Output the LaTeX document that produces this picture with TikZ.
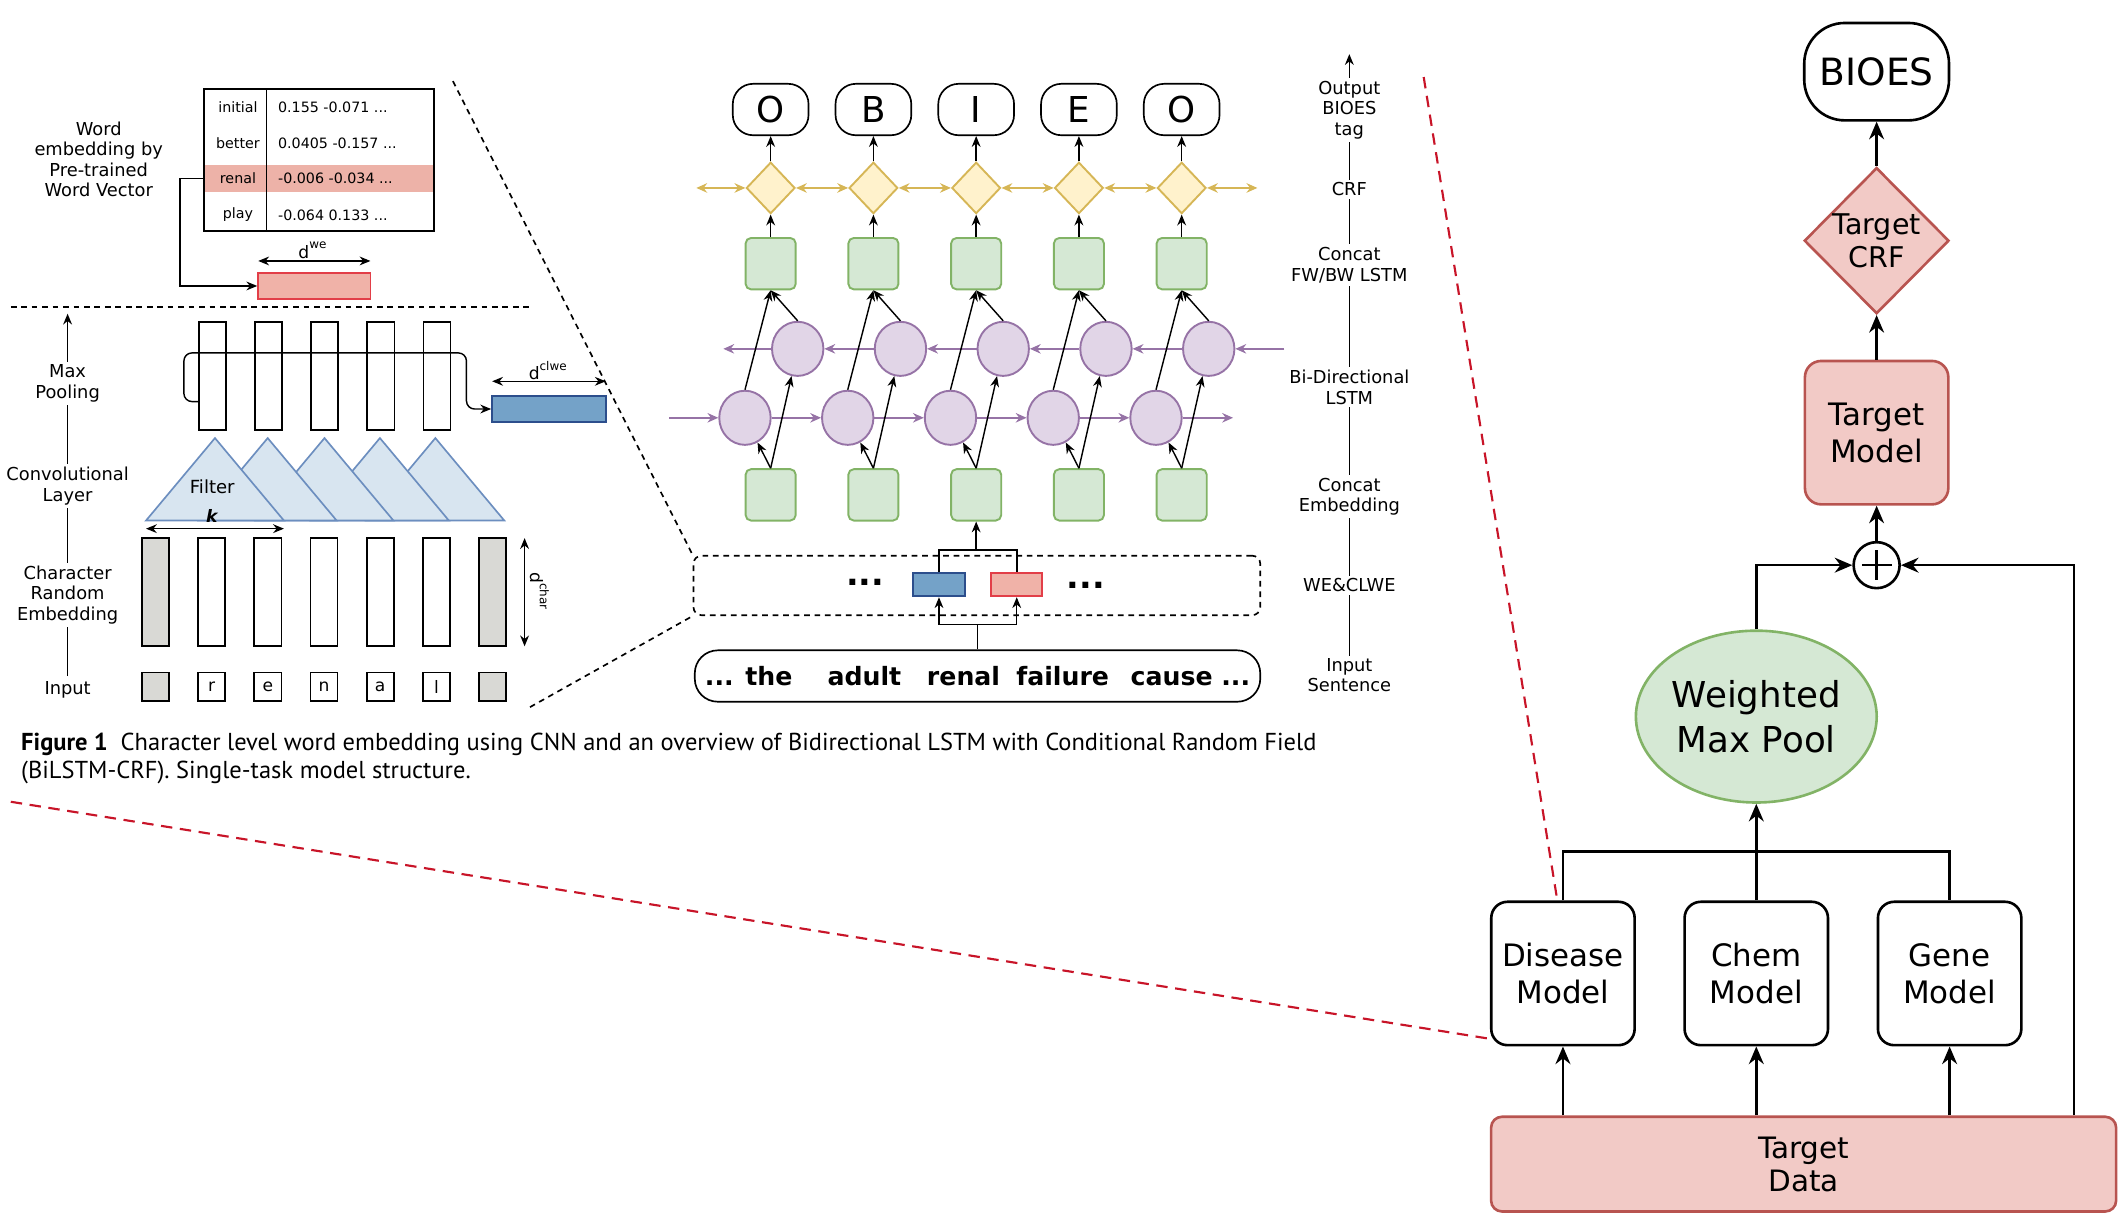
\documentclass[tikz,border=0pt]{standalone}
\usepackage{fontspec}
\setmainfont{DejaVu Sans}
\newfontfamily\capfont{PT Sans}
\usepackage{xcolor}
\usepackage{tikz}
\usetikzlibrary{positioning, arrows.meta, shapes}
\definecolor{rowcolor}{RGB}{237,178,168}
\definecolor{wefill}{RGB}{240,178,168}
\definecolor{weline}{RGB}{226,62,72}
\definecolor{clwefill}{RGB}{116,162,200}
\definecolor{clweline}{RGB}{44,78,140}
\definecolor{padfill}{RGB}{217,217,213}
\definecolor{filtfill}{RGB}{216,229,240}
\definecolor{filtline}{RGB}{108,142,191}
\definecolor{crffill}{RGB}{255,242,204}
\definecolor{crfline}{RGB}{214,182,86}
\definecolor{catfill}{RGB}{213,232,212}
\definecolor{catline}{RGB}{130,179,102}
\definecolor{lstmfill}{RGB}{225,213,231}
\definecolor{lstmline}{RGB}{150,115,166}
\definecolor{targetfill}{RGB}{242,202,198}
\definecolor{targetline}{RGB}{184,84,80}
\definecolor{zoomred}{RGB}{200,20,40}

\begin{document}
\begin{tikzpicture}[x=0.01cm, y=-0.01cm,
    every node/.style={align=center},
    lbl/.style={fill=white, inner sep=0.6pt, font=\fontsize{3.75pt}{4.3pt}\selectfont},
    tabtext/.style={inner sep=0pt, font=\fontsize{3pt}{3.6pt}\selectfont},
    dimtext/.style={inner sep=0pt, font=\fontsize{3.6pt}{3.6pt}\selectfont},
    vec/.style={draw, line width=0.35pt, minimum width=0.2cm, minimum height=0.8cm, inner sep=0pt},
    chr/.style={draw, line width=0.35pt, minimum width=0.2cm, minimum height=0.21cm, inner sep=0pt, font=\fontsize{3.6pt}{3.6pt}\selectfont},
    wevec/.style={draw=weline, fill=wefill, line width=0.4pt, inner sep=0pt},
    clwevec/.style={draw=clweline, fill=clwefill, line width=0.4pt, inner sep=0pt},
    filt/.style={draw=filtline, fill=filtfill, line width=0.35pt},
    tagbox/.style={draw, line width=0.35pt, rounded corners=0.15cm, minimum width=0.56cm, minimum height=0.38cm, inner sep=0pt, font=\fontsize{7.5pt}{7.5pt}\selectfont},
    crfnode/.style={diamond, draw=crfline, fill=crffill, line width=0.4pt, minimum width=0.36cm, minimum height=0.38cm, inner sep=0pt},
    catbox/.style={draw=catline, fill=catfill, line width=0.4pt, rounded corners=0.04cm, minimum width=0.37cm, minimum height=0.38cm, inner sep=0pt},
    lstm/.style={ellipse, draw=lstmline, fill=lstmfill, line width=0.4pt, minimum width=0.38cm, minimum height=0.4cm, inner sep=0pt},
    tarr/.style={-{Stealth[length=0.8mm, width=0.65mm]}, line width=0.3pt},
    dimarr/.style={{Stealth[length=0.8mm, width=0.65mm]}-{Stealth[length=0.8mm, width=0.65mm]}, line width=0.3pt},
    parr/.style={-{Stealth[length=0.8mm, width=0.7mm]}, draw=lstmline, line width=0.45pt},
    garr/.style={{Stealth[length=0.8mm, width=0.7mm]}-{Stealth[length=0.8mm, width=0.7mm]}, draw=crfline, line width=0.45pt},
    zoomdash/.style={line width=0.35pt, dash pattern=on 1.2pt off 1pt},
    reddash/.style={draw=zoomred, line width=0.45pt, dash pattern=on 2.4pt off 1.6pt},
    mbox/.style={draw, fill=white, line width=0.55pt, rounded corners=0.12cm, minimum width=1.06cm, minimum height=1.06cm, inner sep=0pt, font=\fontsize{6.5pt}{7.7pt}\selectfont},
    tbox/.style={mbox, draw=targetline, fill=targetfill},
    rarr/.style={-{Stealth[length=1.3mm, width=1.1mm]}, line width=0.55pt},
    rline/.style={line width=0.55pt}
]
\useasboundingbox (0,0) rectangle (1568,899);

% ---- Word embedding table ----
\fill[rowcolor] (151,122) rectangle (321,142);
\node[draw, line width=0.35pt, minimum width=1.7cm, minimum height=1.05cm, inner sep=0pt] (table) at (236,118.5) {};
\draw[line width=0.35pt] (197,66) -- (197,171);
\node[tabtext] (w1) at (176,79) {initial};
\node[tabtext, anchor=west] (v1) at (205,79) {0.155 -0.071 ...};
\node[tabtext] (w2) at (176,106) {better};
\node[tabtext, anchor=west] (v2) at (205,106) {0.0405 -0.157 ...};
\node[tabtext] (w3) at (176,132) {renal};
\node[tabtext, anchor=west] (v3) at (205,132) {-0.006 -0.034 ...};
\node[tabtext] (w4) at (176,159) {play};
\node[tabtext, anchor=west] (v4) at (205,159) {-0.064 0.133 ...};
\node[lbl, fill=none] (wvlbl) at (73,118) {Word\\embedding by\\Pre-trained\\Word Vector};
\node[wevec, minimum width=0.83cm, minimum height=0.19cm] (webox) at (232.5,211.5) {};
\draw[tarr] (w3 -| table.west) -- (133,132) |- (webox.west);
\coordinate (we1) at (191,193);
\coordinate (we2) at (274,193);
\draw[dimarr] (we1) -- (we2);
\node[dimtext] (welbl) at (232,185) {d\textsuperscript{we}};
\draw[zoomdash] (8,227) -- (392,227);

% ---- Character CNN ----
\coordinate (laxbot) at (50,500);
\coordinate (laxtop) at (50,232);
\draw[tarr] (laxbot) -- (laxtop);
\node[lbl] (lmp) at (50,283.5) {Max\\Pooling};
\node[lbl] (lconv) at (50,359.5) {Convolutional\\Layer};
\node[lbl] (lchar) at (50,440) {Character\\Random\\Embedding};
\node[lbl] (linp) at (50,510) {Input};

\node[vec] (mp1) at (157,278) {};
\node[vec, right=0.203cm of mp1] (mp2) {};
\node[vec, right=0.203cm of mp2] (mp3) {};
\node[vec, right=0.203cm of mp3] (mp4) {};
\node[vec, right=0.203cm of mp4] (mp5) {};
\node[clwevec, minimum width=0.84cm, minimum height=0.19cm] (clwebox) at (406,302.5) {};
\draw[tarr, rounded corners=0.06cm] ([yshift=-0.19cm]mp1.west) -- (136,297) -- (136,261) -- (345,261) -- (345,302.5) -- (clwebox.west);
\coordinate (cl1) at (364,282);
\coordinate (cl2) at (448,282);
\draw[dimarr] (cl1) -- (cl2);
\node[dimtext] (cllbl) at (406,274) {d\textsuperscript{clwe}};

\filldraw[filt] (271,385) -- (322,324) -- (373,385) -- cycle;
\filldraw[filt] (230,385) -- (281,324) -- (332,385) -- cycle;
\filldraw[filt] (189,385) -- (240,324) -- (291,385) -- cycle;
\filldraw[filt] (147,385) -- (198,324) -- (249,385) -- cycle;
\filldraw[filt] (108,385) -- (159,324) -- (210,385) -- cycle;
\node[dimtext, font=\fontsize{3.8pt}{3.8pt}\selectfont] (filtlbl) at (157,360) {Filter};
\coordinate (k1) at (108,391);
\coordinate (k2) at (210,391);
\draw[dimarr] (k1) -- (k2);
\node[dimtext] (klbl) at (157,382) {\textbf{\textit{k}}};

\node[vec, fill=padfill] (ce1) at (115,438) {};
\node[vec, right=0.203cm of ce1] (ce2) {};
\node[vec, right=0.203cm of ce2] (ce3) {};
\node[vec, right=0.203cm of ce3] (ce4) {};
\node[vec, right=0.203cm of ce4] (ce5) {};
\node[vec, right=0.203cm of ce5] (ce6) {};
\node[vec, fill=padfill, right=0.203cm of ce6] (ce7) {};
\coordinate (dc1) at (388,398);
\coordinate (dc2) at (388,478);
\draw[dimarr] (dc1) -- (dc2);
\node[dimtext, rotate=-90] (dclbl) at (399,438) {d\textsuperscript{char}};

\node[chr, fill=padfill] (in1) at (115,508) {};
\node[chr, right=0.203cm of in1] (in2) {r};
\node[chr, right=0.203cm of in2] (in3) {e};
\node[chr, right=0.203cm of in3] (in4) {n};
\node[chr, right=0.203cm of in4] (in5) {a};
\node[chr, right=0.203cm of in5] (in6) {l};
\node[chr, fill=padfill, right=0.203cm of in6] (in7) {};

% ---- Output tags ----
\node[tagbox] (o1) at (570,81) {O};
\node[tagbox] (o2) at (646,81) {B};
\node[tagbox] (o3) at (722,81) {I};
\node[tagbox] (o4) at (798,81) {E};
\node[tagbox] (o5) at (874,81) {O};

% ---- CRF ----
\node[crfnode] (c1) at (570,139) {};
\node[crfnode] (c2) at (646,139) {};
\node[crfnode] (c3) at (722,139) {};
\node[crfnode] (c4) at (798,139) {};
\node[crfnode] (c5) at (874,139) {};
\coordinate (crfin) at (515,139);
\coordinate (crfout) at (930,139);
\draw[garr] (crfin) -- (c1);
\draw[garr] (c1) -- (c2);
\draw[garr] (c2) -- (c3);
\draw[garr] (c3) -- (c4);
\draw[garr] (c4) -- (c5);
\draw[garr] (c5) -- (crfout);
\draw[tarr] (c1) -- (o1);
\draw[tarr] (c2) -- (o2);
\draw[tarr] (c3) -- (o3);
\draw[tarr] (c4) -- (o4);
\draw[tarr] (c5) -- (o5);

% ---- Concat FW/BW ----
\node[catbox] (cat1) at (570,195) {};
\node[catbox] (cat2) at (646,195) {};
\node[catbox] (cat3) at (722,195) {};
\node[catbox] (cat4) at (798,195) {};
\node[catbox] (cat5) at (874,195) {};
\draw[tarr] (cat1) -- (c1);
\draw[tarr] (cat2) -- (c2);
\draw[tarr] (cat3) -- (c3);
\draw[tarr] (cat4) -- (c4);
\draw[tarr] (cat5) -- (c5);

% ---- Bi-directional LSTM ----
\node[lstm] (bw1) at (590,258) {};
\node[lstm] (bw2) at (666,258) {};
\node[lstm] (bw3) at (742,258) {};
\node[lstm] (bw4) at (818,258) {};
\node[lstm] (bw5) at (894,258) {};
\node[lstm] (fw1) at (551,309) {};
\node[lstm] (fw2) at (627,309) {};
\node[lstm] (fw3) at (703,309) {};
\node[lstm] (fw4) at (779,309) {};
\node[lstm] (fw5) at (855,309) {};
\coordinate (bwin) at (950,258);
\coordinate (bwout) at (535,258);
\coordinate (fwin) at (495,309);
\coordinate (fwout) at (912,309);
\draw[parr] (bwin) -- (bw5);
\draw[parr] (bw5) -- (bw4);
\draw[parr] (bw4) -- (bw3);
\draw[parr] (bw3) -- (bw2);
\draw[parr] (bw2) -- (bw1);
\draw[parr] (bw1) -- (bwout);
\draw[parr] (fwin) -- (fw1);
\draw[parr] (fw1) -- (fw2);
\draw[parr] (fw2) -- (fw3);
\draw[parr] (fw3) -- (fw4);
\draw[parr] (fw4) -- (fw5);
\draw[parr] (fw5) -- (fwout);
\draw[tarr] (fw1.north) -- (cat1.south);
\draw[tarr] (bw1.north) -- (cat1.south);
\draw[tarr] (fw2.north) -- (cat2.south);
\draw[tarr] (bw2.north) -- (cat2.south);
\draw[tarr] (fw3.north) -- (cat3.south);
\draw[tarr] (bw3.north) -- (cat3.south);
\draw[tarr] (fw4.north) -- (cat4.south);
\draw[tarr] (bw4.north) -- (cat4.south);
\draw[tarr] (fw5.north) -- (cat5.south);
\draw[tarr] (bw5.north) -- (cat5.south);

% ---- Concat embedding ----
\node[catbox] (emb1) at (570,366) {};
\node[catbox] (emb2) at (646,366) {};
\node[catbox] (emb3) at (722,366) {};
\node[catbox] (emb4) at (798,366) {};
\node[catbox] (emb5) at (874,366) {};
\draw[tarr] (emb1.north) -- (fw1);
\draw[tarr] (emb1.north) -- (bw1);
\draw[tarr] (emb2.north) -- (fw2);
\draw[tarr] (emb2.north) -- (bw2);
\draw[tarr] (emb3.north) -- (fw3);
\draw[tarr] (emb3.north) -- (bw3);
\draw[tarr] (emb4.north) -- (fw4);
\draw[tarr] (emb4.north) -- (bw4);
\draw[tarr] (emb5.north) -- (fw5);
\draw[tarr] (emb5.north) -- (bw5);

% ---- WE & CLWE ----
\node[draw, zoomdash, rounded corners=0.06cm, minimum width=4.19cm, minimum height=0.44cm, inner sep=0pt] (wecl) at (722.5,433) {};
\node[inner sep=0pt, font=\bfseries\fontsize{7pt}{7pt}\selectfont] (dotl) at (640,431) {...};
\node[clwevec, minimum width=0.39cm, minimum height=0.17cm] (wcb) at (694.5,432.5) {};
\node[wevec, minimum width=0.38cm, minimum height=0.17cm] (wcr) at (752,432.5) {};
\node[inner sep=0pt, font=\bfseries\fontsize{7pt}{7pt}\selectfont] (dotr) at (803,433) {...};
\coordinate (wejoin) at (722,407);
\draw[line width=0.35pt] (wcb.north) |- (wejoin) -| (wcr.north);
\draw[tarr] (wejoin) -- (emb3.south);

% ---- Input sentence ----
\node[draw, line width=0.35pt, rounded corners=0.17cm, minimum width=4.18cm, minimum height=0.38cm, inner sep=0pt, font=\bfseries\fontsize{5.3pt}{5.3pt}\selectfont] (sent) at (723,500) {... the\hspace{0.26cm}adult\hspace{0.19cm}renal\hspace{0.12cm}failure\hspace{0.16cm}cause ...};
\coordinate (sjoin) at (723,462);
\draw[line width=0.35pt] (sent.north) -- (sjoin);
\draw[tarr] (sjoin) -| (wcb.south);
\draw[tarr] (sjoin) -| (wcr.south);

% ---- Layer names ----
\coordinate (raxbot) at (998,488);
\coordinate (raxtop) at (998,40);
\draw[tarr] (raxbot) -- (raxtop);
\node[lbl] (rout) at (998,81.5) {Output\\BIOES\\tag};
\node[lbl] (rcrf) at (998,140) {CRF};
\node[lbl] (rcat) at (998,196) {Concat\\FW/BW LSTM};
\node[lbl] (rbi) at (998,286.5) {Bi-Directional\\LSTM};
\node[lbl] (remb) at (998,367.5) {Concat\\Embedding};
\node[lbl] (rwe) at (998,433) {WE\&CLWE};
\node[lbl] (rinp) at (998,499.5) {Input\\Sentence};

% ---- Zoom lines ----
\coordinate (zt) at (335,60);
\coordinate (zb) at (392,523);
\draw[zoomdash] (zt) -- (wecl.north west);
\draw[zoomdash] (zb) -- (wecl.south west);

% ---- Caption ----
\node[anchor=west, align=left, inner sep=0pt, font=\capfont\fontsize{5.15pt}{5.8pt}\selectfont] (caption) at (15,561) {\textbf{Figure 1}\ \ Character level word embedding using CNN and an overview of Bidirectional LSTM with Conditional Random Field\\(BiLSTM-CRF). Single-task model structure.};

% ---- Multi-task model ----
\node[draw, line width=0.55pt, rounded corners=0.3cm, minimum width=1.07cm, minimum height=0.72cm, inner sep=0pt, font=\fontsize{7.9pt}{7.9pt}\selectfont] (bioes) at (1388,53) {BIOES};
\node[diamond, draw=targetline, fill=targetfill, line width=0.55pt, minimum width=1.07cm, minimum height=1.08cm, inner sep=0pt, font=\fontsize{6pt}{6.8pt}\selectfont] (tcrf) at (1388,178) {Target\\CRF};
\node[tbox] (tmod) at (1388,320) {Target\\Model};
\node[circle, draw, fill=white, line width=0.55pt, minimum size=0.34cm, inner sep=0pt] (plus) at (1388,418) {};
\draw[rline] ([yshift=0.11cm]plus.center) -- ([yshift=-0.11cm]plus.center);
\draw[rline] ([xshift=-0.11cm]plus.center) -- ([xshift=0.11cm]plus.center);
\node[ellipse, draw=catline, fill=catfill, line width=0.55pt, minimum width=1.78cm, minimum height=1.27cm, inner sep=0pt, font=\fontsize{7.5pt}{9.4pt}\selectfont] (wmp) at (1299,530) {Weighted\\Max Pool};
\coordinate (rz1) at (1053,57);
\coordinate (rz2) at (8,593);
\draw[reddash] (rz1) -- ([xshift=-0.04cm]1156,667);
\draw[reddash] (rz2) -- (1100,768);
\node[mbox] (dis) at (1156,720) {Disease\\Model};
\node[mbox] (chem) at (1299,720) {Chem\\Model};
\node[mbox] (gene) at (1442,720) {Gene\\Model};
\node[tbox, minimum width=4.62cm, minimum height=0.7cm, rounded corners=0.08cm, font=\fontsize{6.2pt}{6.9pt}\selectfont] (tdata) at (1334,861) {Target\\Data};
\draw[rarr] (tcrf) -- (bioes);
\draw[rarr] (tmod) -- (tcrf);
\draw[rarr] (plus) -- (tmod);
\draw[rarr] (wmp.north) |- (plus.west);
\coordinate (tdr) at ([xshift=-0.32cm]tdata.north east);
\draw[rarr] (tdr) |- (plus.east);
\coordinate (mjoin) at (1299,630);
\draw[rline] (dis.north) |- (mjoin) -| (gene.north);
\draw[rarr] (chem.north) -- (wmp.south);
\draw[rarr] (tdata.north -| dis.south) -- (dis.south);
\draw[rarr] (tdata.north -| chem.south) -- (chem.south);
\draw[rarr] (tdata.north -| gene.south) -- (gene.south);

\end{tikzpicture}
\end{document}
